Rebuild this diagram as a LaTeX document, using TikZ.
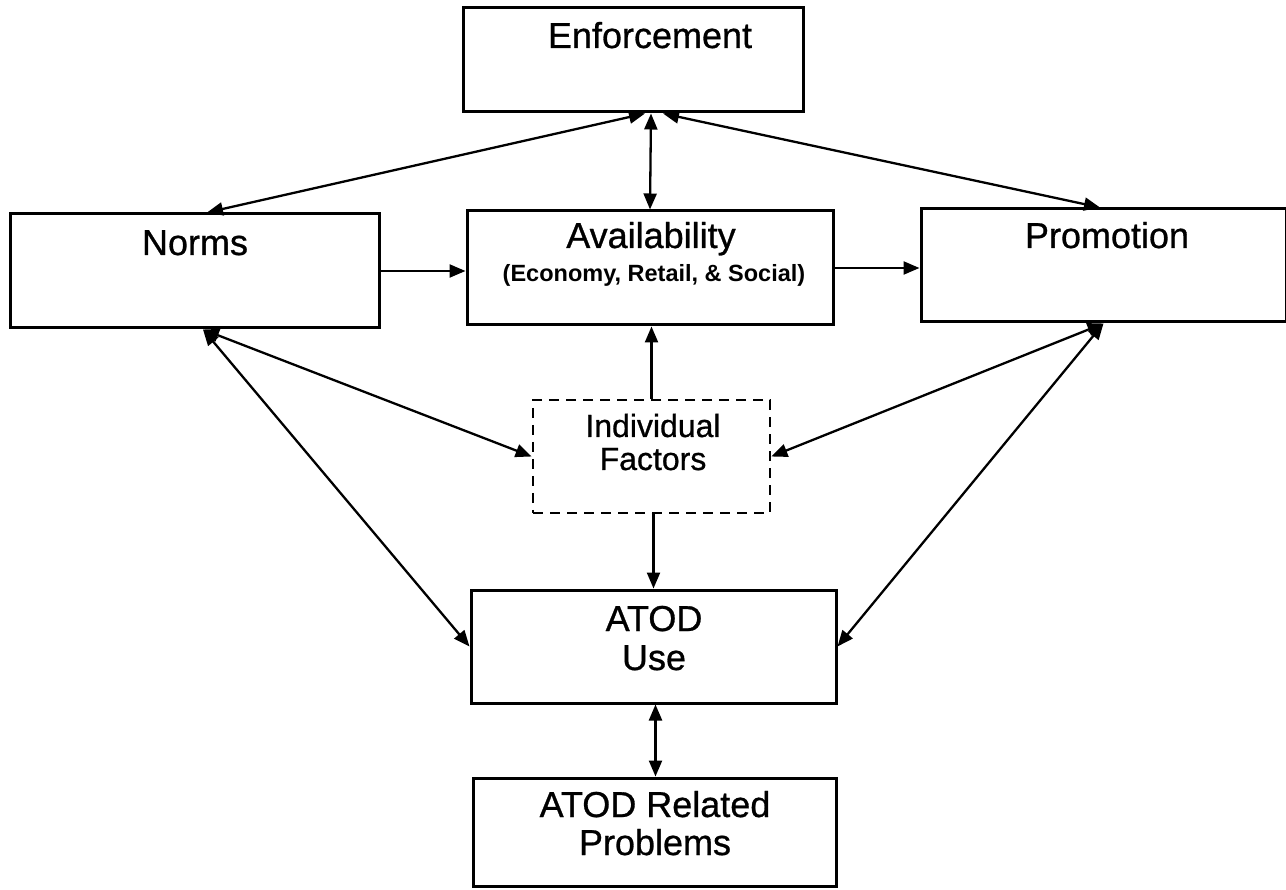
\documentclass[tikz,border=0pt]{standalone}
\usepackage{fontspec}
\setmainfont{Liberation Sans}
\newfontface\heavyface{Liberation Sans}[FakeBold=0.8]
\usetikzlibrary{arrows.meta}
\begin{document}
\begin{tikzpicture}[x=1pt,y=-1pt,
  box/.style={draw, line width=3pt, inner sep=0pt, rectangle},
  dbox/.style={box, line width=2.8pt, dash pattern=on 10pt off 7pt},
  lab/.style={font=\heavyface\fontsize{36}{40}\selectfont, anchor=base, inner sep=0pt},
  slab/.style={font=\heavyface\fontsize{32}{36}\selectfont, anchor=base, inner sep=0pt},
  sub/.style={font=\bfseries\fontsize{23.5}{28}\selectfont, anchor=base, inner sep=0pt},
  tip/.tip={Triangle[length=16pt,width=13pt]},
  both/.style={line width=2.3pt, tip-tip},
  one/.style={line width=2.3pt, -tip}]
\useasboundingbox (0,0) rectangle (1286,890);
% boxes
\node[box, minimum width=340pt, minimum height=104pt] (enf) at (633,60) {};
\node[box, minimum width=369pt, minimum height=114pt] (norms) at (194.5,271) {};
\node[box, minimum width=366pt, minimum height=114pt] (avail) at (650,268) {};
\node[box, minimum width=365pt, minimum height=113pt] (prom) at (1103.5,265.5) {};
\node[dbox, minimum width=237pt, minimum height=113pt] (indiv) at (651.5,456.5) {};
\node[box, minimum width=365pt, minimum height=113pt] (use) at (653.5,646.5) {};
\node[box, minimum width=363pt, minimum height=108pt] (prob) at (654.5,832) {};
% labels
\node[lab] (tenf) at (650,48) {Enforcement};
\node[lab] (tnorms) at (195,255) {Norms};
\node[lab] (tavail) at (651,248) {Availability};
\node[sub] (tavsub) at (654,282) {(Economy, Retail, \& Social)};
\node[lab] (tprom) at (1107,248) {Promotion};
\node[slab] (tind1) at (653,437) {Individual};
\node[slab] (tind2) at (653,470) {Factors};
\node[lab] (tuse1) at (654,631) {ATOD};
\node[lab] (tuse2) at (654,670) {Use};
\node[lab] (tprob1) at (655,817) {ATOD Related};
\node[lab] (tprob2) at (655,855) {Problems};
% connectors
\draw[both] ([xshift=12pt]enf.south) -- ([xshift=12.5pt]norms.north);
\draw[both] ([xshift=30pt]enf.south) -- ([xshift=-3.5pt]prom.north);
\draw[both] ([xshift=18pt]enf.south) -- (avail.north);
\draw[one] (norms.east) -- (norms.east -| avail.west);
\draw[one] (avail.east) -- (avail.east -| prom.west);
\draw[one] (indiv.north) -- (indiv.north |- avail.south);
\draw[both] ([xshift=8.5pt]norms.south) -- (indiv.west);
\draw[both] (prom.south) -- (indiv.east);
\draw[both] ([xshift=8.5pt]norms.south) -- (use.west);
\draw[both] (prom.south) -- (use.east);
\draw[one] (indiv.south) -- (indiv.south -| use.north) -- (use.north);
\draw[both] ([xshift=2pt]use.south) -- ([xshift=1pt]prob.north);
\end{tikzpicture}
\end{document}
